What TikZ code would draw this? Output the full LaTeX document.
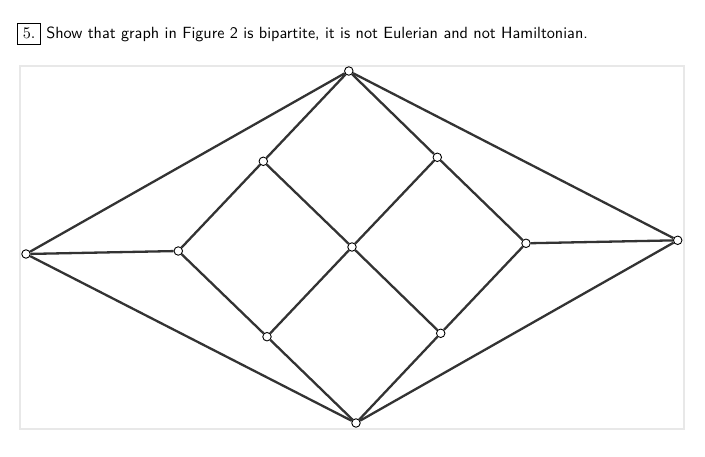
\documentclass[tikz,border=0pt]{standalone}
\definecolor{edgegray}{HTML}{333333}
\definecolor{framegray}{HTML}{E8E8E8}
\tikzset{
    vertex/.style={circle,draw=black,fill=white,line width=0.9pt,inner sep=0pt,minimum size=8.5pt},
    edge/.style={draw=edgegray,line width=2.3pt}
}
\begin{document}
\begin{tikzpicture}[x=1pt,y=-1pt]
    \useasboundingbox (0,0) rectangle (705,457);
    \draw[framegray,line width=2.5pt] (20,66) rectangle (684,429);
    \node[anchor=base west,inner sep=0pt,scale=1.62] (task) at (17,39) {\fbox{5.}\ \textsf{Show that graph in Figure 2 is bipartite, it is not Eulerian and not Hamiltonian.}};
    \node[vertex] (top) at (348.8,71) {};
    \node[vertex] (left) at (26,254) {};
    \node[vertex] (right) at (677.7,240.3) {};
    \node[vertex] (bottom) at (356,423) {};
    \node[vertex] (upl) at (263.3,161.3) {};
    \node[vertex] (upr) at (437.3,157.3) {};
    \node[vertex] (midl) at (178.3,251) {};
    \node[vertex] (midr) at (526,243.3) {};
    \node[vertex] (centre) at (352,247) {};
    \node[vertex] (lowl) at (267,336.7) {};
    \node[vertex] (lowr) at (440.7,333.3) {};
    \draw[edge] (top) -- (left);
    \draw[edge] (top) -- (right);
    \draw[edge] (bottom) -- (left);
    \draw[edge] (bottom) -- (right);
    \draw[edge] (left) -- (midl);
    \draw[edge] (right) -- (midr);
    \draw[edge] (top) -- (upl);
    \draw[edge] (top) -- (upr);
    \draw[edge] (upl) -- (midl);
    \draw[edge] (upl) -- (centre);
    \draw[edge] (upr) -- (centre);
    \draw[edge] (upr) -- (midr);
    \draw[edge] (midl) -- (lowl);
    \draw[edge] (centre) -- (lowl);
    \draw[edge] (centre) -- (lowr);
    \draw[edge] (midr) -- (lowr);
    \draw[edge] (lowl) -- (bottom);
    \draw[edge] (lowr) -- (bottom);
\end{tikzpicture}
\end{document}
